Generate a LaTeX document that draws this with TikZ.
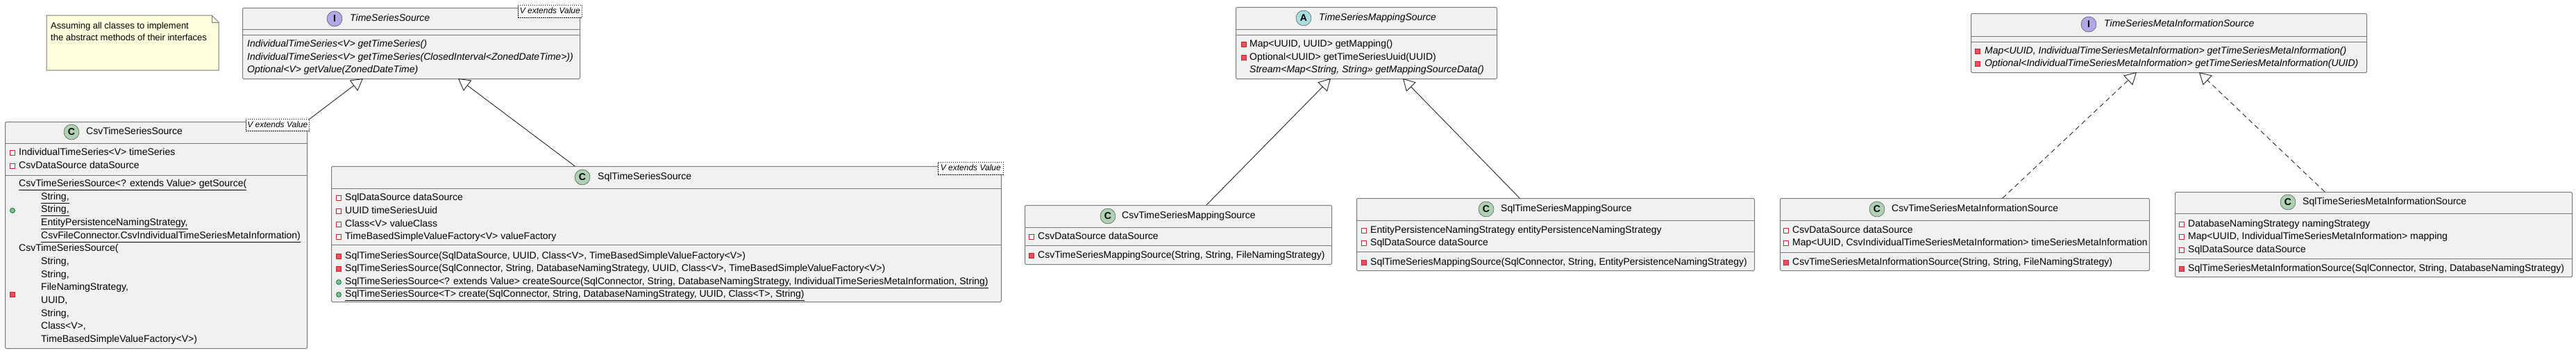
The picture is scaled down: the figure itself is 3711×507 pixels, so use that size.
\documentclass[tikz,border=0pt]{standalone}
\usepackage{fontspec}
\setmainfont{Liberation Sans}
\usetikzlibrary{arrows.meta,calc}
\definecolor{boxfill}{HTML}{F1F1F1}
\definecolor{boxline}{HTML}{7A7A7A}
\definecolor{notefill}{HTML}{FEFFDD}
\definecolor{cfill}{HTML}{ADD1B2}
\definecolor{ifill}{HTML}{B4A7E5}
\definecolor{afill}{HTML}{A9DCDF}
\definecolor{redb}{HTML}{C82930}
\definecolor{redf}{HTML}{F24D5C}
\definecolor{greenb}{HTML}{038048}
\definecolor{greenf}{HTML}{84BE84}
\tikzset{
  x=1pt,y=-1pt,
  box/.style={draw=boxline,fill=boxfill,line width=1,rounded corners=1.5,anchor=north west,inner sep=0},
  sepl/.style={draw=boxline,line width=1},
  txt/.style={anchor=west,inner sep=0,text height=10,text depth=3,font=\fontsize{14}{17}\selectfont},
  itxt/.style={txt,font=\fontsize{14}{17}\selectfont\itshape},
  cico/.style={circle,draw=black!80,fill=cfill,minimum size=22,inner sep=0,font=\fontsize{14}{14}\selectfont\bfseries},
  iico/.style={cico,fill=ifill},
  aico/.style={cico,fill=afill},
  pf/.style={draw=redb,fill=white,minimum size=7,inner sep=0,line width=0.8},
  pm/.style={draw=redb,fill=redf,minimum size=7,inner sep=0,line width=0.8},
  pub/.style={circle,draw=greenb,fill=greenf,minimum size=7,inner sep=0,line width=0.8},
  gen/.style={draw=black,dashed,dash pattern=on 1.5 off 1.5,fill=white,anchor=north west,inner sep=0,line width=0.7},
  inh/.style={draw=black!85,line width=0.9,-{Triangle[open,length=17,width=19]}},
  impl/.style={inh,dash pattern=on 7 off 5},
}
\begin{document}
\begin{tikzpicture}
\useasboundingbox (0,0) rectangle (3711,507);
% note
\node[anchor=north west,minimum width=248,minimum height=79,inner sep=0] (note) at (67,22) {};
\draw[draw=boxline,fill=notefill,line width=1] (67,22) -- (305,22) -- (315,32) -- (315,101) -- (67,101) -- cycle;
\draw[draw=boxline,line width=1] (305,22) -- (305,32) -- (315,32);
\node[txt,font=\fontsize{13}{16}\selectfont] (n1) at (73,38) {Assuming all classes to implement};
\node[txt,font=\fontsize{13}{16}\selectfont] (n2) at (73,55) {the abstract methods of their interfaces};

% TimeSeriesSource
\node[box,minimum width=486,minimum height=102] (tss) at (349,11) {};
\draw[sepl] (349,42) -- (835,42); \draw[sepl] (349,50) -- (835,50);
\node[iico] (tssi) at (482,27) {I};
\node[itxt] (tssn) at (504,27) {TimeSeriesSource};
\node[itxt] (t1) at (356,64) {IndividualTimeSeries<V> getTimeSeries()};
\node[itxt] (t2) at (356,83) {IndividualTimeSeries<V> getTimeSeries(ClosedInterval<ZonedDateTime>))};
\node[itxt] (t3) at (356,101) {Optional<V> getValue(ZonedDateTime)};
\node[gen,minimum width=92,minimum height=18] (tssg) at (746,7) {};
\node[itxt,font=\fontsize{12}{14}\selectfont\itshape,anchor=center] at (tssg.center) {V extends Value};

% CsvTimeSeriesSource
\node[box,minimum width=435,minimum height=326] (cts) at (7,175) {};
\draw[sepl] (7,206) -- (442,206); \draw[sepl] (7,252) -- (442,252);
\node[cico] (ctsi) at (103,190) {C};
\node[txt] (ctsn) at (124,190) {CsvTimeSeriesSource};
\node[pf] at (18,220) {}; \node[txt] at (27,220) {IndividualTimeSeries<V> timeSeries};
\node[pf] at (18,239) {}; \node[txt] at (27,239) {CsvDataSource dataSource};
\node[pub] at (18,303) {};
\node[txt] at (27,265) {\underline{CsvTimeSeriesSource<? extends Value> getSource(}};
\node[txt] at (59,284) {\underline{String,}};
\node[txt] at (59,302) {\underline{String,}};
\node[txt] at (59,321) {\underline{EntityPersistenceNamingStrategy,}};
\node[txt] at (59,340) {\underline{CsvFileConnector.CsvIndividualTimeSeriesMetaInformation)}};
\node[pm] at (18,424) {};
\node[txt] at (27,358) {CsvTimeSeriesSource(};
\node[txt] at (59,377) {String,};
\node[txt] at (59,396) {String,};
\node[txt] at (59,414) {FileNamingStrategy,};
\node[txt] at (59,433) {UUID,};
\node[txt] at (59,452) {String,};
\node[txt] at (59,470) {Class<V>,};
\node[txt] at (59,489) {TimeBasedSimpleValueFactory<V>)};
\node[gen,minimum width=91,minimum height=17] (ctsg) at (354,171) {};
\node[itxt,font=\fontsize{12}{14}\selectfont\itshape,anchor=center] at (ctsg.center) {V extends Value};

% SqlTimeSeriesSource
\node[box,minimum width=965,minimum height=195] (sts) at (477,239) {};
\draw[sepl] (477,271) -- (1442,271); \draw[sepl] (477,352) -- (1442,352);
\node[cico] (stsi) at (839,255) {C};
\node[txt] (stsn) at (861,255) {SqlTimeSeriesSource};
\node[pf] at (488,285) {}; \node[txt] at (497,285) {SqlDataSource dataSource};
\node[pf] at (488,304) {}; \node[txt] at (497,304) {UUID timeSeriesUuid};
\node[pf] at (488,323) {}; \node[txt] at (497,323) {Class<V> valueClass};
\node[pf] at (488,341) {}; \node[txt] at (497,341) {TimeBasedSimpleValueFactory<V> valueFactory};
\node[pm] at (488,369) {}; \node[txt] at (497,369) {SqlTimeSeriesSource(SqlDataSource, UUID, Class<V>, TimeBasedSimpleValueFactory<V>)};
\node[pm] at (488,387) {}; \node[txt] at (497,387) {SqlTimeSeriesSource(SqlConnector, String, DatabaseNamingStrategy, UUID, Class<V>, TimeBasedSimpleValueFactory<V>)};
\node[pub] at (488,406) {}; \node[txt] at (497,406) {\underline{SqlTimeSeriesSource<? extends Value> createSource(SqlConnector, String, DatabaseNamingStrategy, IndividualTimeSeriesMetaInformation, String)}};
\node[pub] at (488,424) {}; \node[txt] at (497,424) {\underline{SqlTimeSeriesSource<T> create(SqlConnector, String, DatabaseNamingStrategy, UUID, Class<T>, String)}};
\node[gen,minimum width=94,minimum height=18] (stsg) at (1351,233) {};
\node[itxt,font=\fontsize{12}{14}\selectfont\itshape,anchor=center] at (stsg.center) {V extends Value};

% TimeSeriesMappingSource
\node[box,minimum width=376,minimum height=103] (tms) at (1780,10) {};
\draw[sepl] (1780,42) -- (2156,42); \draw[sepl] (1780,50) -- (2156,50);
\node[aico] (tmsi) at (1878,26) {A};
\node[itxt] (tmsn) at (1900,26) {TimeSeriesMappingSource};
\node[pm] at (1792,64) {}; \node[txt] at (1800,64) {Map<UUID, UUID> getMapping()};
\node[pm] at (1792,83) {}; \node[txt] at (1800,83) {Optional<UUID> getTimeSeriesUuid(UUID)};
\node[itxt] at (1800,101) {Stream<Map<String, String>> getMappingSourceData()};

% CsvTimeSeriesMappingSource
\node[box,minimum width=442,minimum height=85] (cms) at (1476,295) {};
\draw[sepl] (1476,327) -- (1918,327); \draw[sepl] (1476,353) -- (1918,353);
\node[cico] (cmsi) at (1596,311) {C};
\node[txt] (cmsn) at (1616,311) {CsvTimeSeriesMappingSource};
\node[pf] at (1486,341) {}; \node[txt] at (1495,341) {CsvDataSource dataSource};
\node[pm] at (1486,368) {}; \node[txt] at (1495,368) {CsvTimeSeriesMappingSource(String, String, FileNamingStrategy)};

% SqlTimeSeriesMappingSource
\node[box,minimum width=573,minimum height=104] (sms) at (1954,285) {};
\draw[sepl] (1954,317) -- (2527,317); \draw[sepl] (1954,362) -- (2527,362);
\node[cico] (smsi) at (2141,301) {C};
\node[txt] (smsn) at (2162,301) {SqlTimeSeriesMappingSource};
\node[pf] at (1965,332) {}; \node[txt] at (1974,332) {EntityPersistenceNamingStrategy entityPersistenceNamingStrategy};
\node[pf] at (1965,350) {}; \node[txt] at (1974,350) {SqlDataSource dataSource};
\node[pm] at (1965,378) {}; \node[txt] at (1974,378) {SqlTimeSeriesMappingSource(SqlConnector, String, EntityPersistenceNamingStrategy)};

% TimeSeriesMetaInformationSource
\node[box,minimum width=570,minimum height=85] (tmi) at (2839,19) {};
\draw[sepl] (2839,52) -- (3409,52); \draw[sepl] (2839,60) -- (3409,60);
\node[iico] (tmii) at (3009,35) {I};
\node[itxt] (tmin) at (3031,35) {TimeSeriesMetaInformationSource};
\node[pm] at (2849,74) {}; \node[itxt] at (2859,74) {Map<UUID, IndividualTimeSeriesMetaInformation> getTimeSeriesMetaInformation()};
\node[pm] at (2849,92) {}; \node[itxt] at (2859,92) {Optional<IndividualTimeSeriesMetaInformation> getTimeSeriesMetaInformation(UUID)};

% CsvTimeSeriesMetaInformationSource
\node[box,minimum width=532,minimum height=104] (cmi) at (2564,285) {};
\draw[sepl] (2564,317) -- (3096,317); \draw[sepl] (2564,363) -- (3096,363);
\node[cico] (cmii) at (2704,301) {C};
\node[txt] (cmin) at (2725,301) {CsvTimeSeriesMetaInformationSource};
\node[pf] at (2573,332) {}; \node[txt] at (2582,332) {CsvDataSource dataSource};
\node[pf] at (2573,350) {}; \node[txt] at (2582,350) {Map<UUID, CsvIndividualTimeSeriesMetaInformation> timeSeriesMetaInformation};
\node[pm] at (2573,378) {}; \node[txt] at (2582,378) {CsvTimeSeriesMetaInformationSource(String, String, FileNamingStrategy)};

% SqlTimeSeriesMetaInformationSource
\node[box,minimum width=572,minimum height=122] (smi) at (3133,276) {};
\draw[sepl] (3133,307) -- (3705,307); \draw[sepl] (3133,372) -- (3705,372);
\node[cico] (smii) at (3296,291) {C};
\node[txt] (smin) at (3317,291) {SqlTimeSeriesMetaInformationSource};
\node[pf] at (3143,323) {}; \node[txt] at (3152,323) {DatabaseNamingStrategy namingStrategy};
\node[pf] at (3143,341) {}; \node[txt] at (3152,341) {Map<UUID, IndividualTimeSeriesMetaInformation> mapping};
\node[pf] at (3143,360) {}; \node[txt] at (3152,360) {SqlDataSource dataSource};
\node[pm] at (3143,387) {}; \node[txt] at (3152,387) {SqlTimeSeriesMetaInformationSource(SqlConnector, String, DatabaseNamingStrategy)};

% connectors
\coordinate (a1s) at (445,172); \coordinate (a1e) at (523,113);
\coordinate (a2s) at (828,239); \coordinate (a2e) at (660,113);
\coordinate (a3s) at (1738,295); \coordinate (a3e) at (1917,113);
\coordinate (a4s) at (2189,285); \coordinate (a4e) at (2021,113);
\coordinate (a5s) at (2885,285); \coordinate (a5e) at (3078,104);
\coordinate (a6s) at (3349,276); \coordinate (a6e) at (3168,104);
\draw[inh] (a1s) -- (a1e);
\draw[inh] (a2s) -- (a2e);
\draw[inh] (a3s) -- (a3e);
\draw[inh] (a4s) -- (a4e);
\draw[impl] (a5s) -- (a5e);
\draw[impl] (a6s) -- (a6e);
\end{tikzpicture}
\end{document}
